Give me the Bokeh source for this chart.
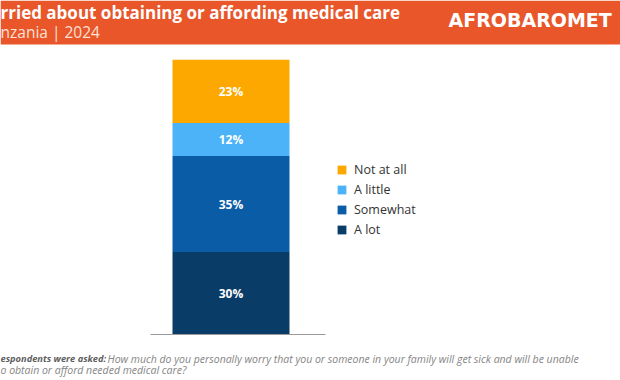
import re
from bokeh.plotting import figure
from bokeh.models import Range1d, ColumnDataSource, Label, BoxAnnotation, Legend, LegendItem
from bokeh.embed import file_html
from bokeh.resources import INLINE

# ---- data ----
country = ["Tanzania"]
series_names = ["A lot", "Somewhat", "A little", "Not at all"]
a_lot = [30]
somewhat = [35]
a_little = [12]
not_at_all = [23]
colors = ["#0A3C68", "#0B5CA6", "#4DB3F8", "#FCA800"]

# visible (cropped) texts of the reference
title = "rried about obtaining or affording medical care"
subtitle = "nzania | 2024"
brand = "AFROBAROMET"
note_bold = "espondents were asked:"
note_line1 = "How much do you personally worry that you or someone in your family will get sick and will be unable"
note_line2 = "o obtain or afford needed medical care?"

W, H = 620, 380
Y1 = 121.59
Y0 = -16.74


def ydat(py):
    return Y1 - py * (Y1 - Y0) / H


p = figure(width=W, height=H, x_range=Range1d(0, W), y_range=Range1d(Y0, Y1),
           output_backend="svg", toolbar_location=None, min_border=0)
p.axis.visible = False
p.grid.visible = False
p.outline_line_color = None
p.background_fill_color = "white"
p.border_fill_color = "white"

keys = ["a_lot", "somewhat", "a_little", "not_at_all"]
src = ColumnDataSource(dict(x=[230.5], a_lot=a_lot, somewhat=somewhat,
                            a_little=a_little, not_at_all=not_at_all))
rs = p.vbar_stack(keys, x="x", width=117, source=src, color=colors, line_color=None)

# segment labels
vals = [a_lot[0], somewhat[0], a_little[0], not_at_all[0]]
mids, cum = [], 0
for v in vals:
    mids.append(cum + v / 2)
    cum += v
p.text(x=[230.5] * 4, y=mids, text=[f"{v}%" for v in vals], text_color="white",
       text_font_size="12px", text_font_style="bold", text_align="center",
       text_baseline="middle", text_font={"value": "Open Sans"})

# baseline
p.segment(x0=[150], x1=[325], y0=[0], y1=[0], line_color="#9A9A9A", line_width=1)

# legend
items = [LegendItem(label=n, renderers=[r]) for n, r in zip(series_names, rs)][::-1]
leg = Legend(items=items, location=(336, 142), padding=0, margin=0,
             glyph_width=11, glyph_height=11, label_height=11, spacing=3,
             label_standoff=7, label_text_font="Open Sans", label_text_font_size="12.5px",
             label_text_color="#333333", border_line_color=None, background_fill_alpha=0)
p.add_layout(leg, "center")

# header
p.add_layout(BoxAnnotation(bottom=ydat(44), fill_color="#E8562A", fill_alpha=1, line_color=None, level="underlay"))
p.add_layout(Label(x=0, y=ydat(12), text=title, text_align="left", text_baseline="alphabetic",
                   text_color="white", text_font="Open Sans", text_font_style="bold",
                   text_font_size="17px"))
p.add_layout(Label(x=0, y=ydat(31), text=subtitle, text_align="left", text_baseline="alphabetic",
                   text_color="#FCE1D5", text_font="Open Sans", text_font_size="15.5px"))
p.add_layout(Label(x=448, y=ydat(19), text=brand, text_align="left", text_baseline="alphabetic",
                   text_color="white", text_font="DejaVu Sans", text_font_style="bold",
                   text_font_size="19px"))

# footnote
p.add_layout(Label(x=0, y=ydat(358), text=note_bold, text_align="left", text_baseline="alphabetic",
                   text_color="#5E5E5E", text_font="Open Sans", text_font_style="bold italic",
                   text_font_size="9.3px"))
p.add_layout(Label(x=107, y=ydat(358), text=note_line1, text_align="left", text_baseline="alphabetic",
                   text_color="#858585", text_font="Open Sans", text_font_style="italic",
                   text_font_size="10.5px"))
p.add_layout(Label(x=0, y=ydat(369), text=note_line2, text_align="left", text_baseline="alphabetic",
                   text_color="#858585", text_font="Open Sans", text_font_style="italic",
                   text_font_size="10.5px"))

html = file_html(p, INLINE)
html = re.sub(r"<body>", '<body style="margin:0;overflow:hidden">', html, count=1)
open("out.html", "w").write(html)
